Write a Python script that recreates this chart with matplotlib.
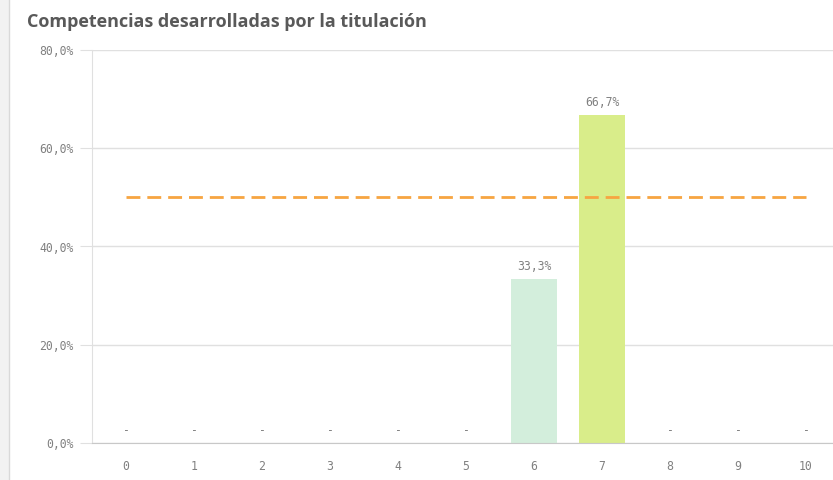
import matplotlib.pyplot as plt
from matplotlib.ticker import FuncFormatter

categories = [0, 1, 2, 3, 4, 5, 6, 7, 8, 9, 10]
values = [0, 0, 0, 0, 0, 0, 33.3, 66.7, 0, 0, 0]
bar_colors = ['#d3eedc'] * 7 + ['#d9ed8a'] + ['#d3eedc'] * 3
reference = 50.0

fig = plt.figure(figsize=(8.33, 4.80), dpi=100)
ax = fig.add_axes([92 / 833, 1 - 443 / 480, (840 - 92) / 833, (443 - 50) / 480])

ax.bar(categories, values, width=0.69, color=bar_colors, zorder=2)
ax.plot([categories[0], categories[-1]], [reference, reference],
        color='#f7a541', lw=2, ls=(0, (5, 2.5)), zorder=3)

mono = 'DejaVu Sans Mono'
fs = 8.3
for x, v in zip(categories, values):
    if v > 0:
        ax.text(x, v + 1.3, f'{v:.1f}%'.replace('.', ','), ha='center', va='bottom',
                fontsize=fs, color='#808080', family=mono)
    else:
        ax.text(x, 1.2, '-', ha='center', va='bottom', fontsize=fs,
                color='#808080', family=mono)

ax.set_xlim(-0.5, 10.5)
ax.set_ylim(0, 80)
ax.set_yticks([0, 20, 40, 60, 80])
ax.yaxis.set_major_formatter(FuncFormatter(lambda v, p: f'{v:.1f}%'.replace('.', ',')))
ax.set_xticks(categories)
ax.grid(axis='y', color='#e0e0e0', lw=1, zorder=0)
for s in ['top', 'right']:
    ax.spines[s].set_visible(False)
ax.spines['left'].set_color('#e0e0e0')
ax.spines['bottom'].set_color('#c8c8c8')
ax.tick_params(axis='y', length=9, color='#e0e0e0', labelsize=fs, labelcolor='#808080', pad=4)
ax.tick_params(axis='x', length=0, labelsize=fs, labelcolor='#808080', pad=12)
for lab in ax.get_xticklabels() + ax.get_yticklabels():
    lab.set_family(mono)

fig.text(27 / 833, 1 - 22 / 480, 'Competencias desarrolladas por la titulación',
         fontsize=13, fontweight='bold', color='#595959', family='Open Sans', va='center')

# panel border on the left
fig.add_artist(plt.Rectangle((0, 0), 9 / 833, 1, transform=fig.transFigure,
                             color='#f2f2f2', lw=0))
fig.add_artist(plt.Line2D([9 / 833, 9 / 833], [0, 1], transform=fig.transFigure,
                          color='#d9d9d9', lw=1))

fig.savefig('out.png', dpi=100)
